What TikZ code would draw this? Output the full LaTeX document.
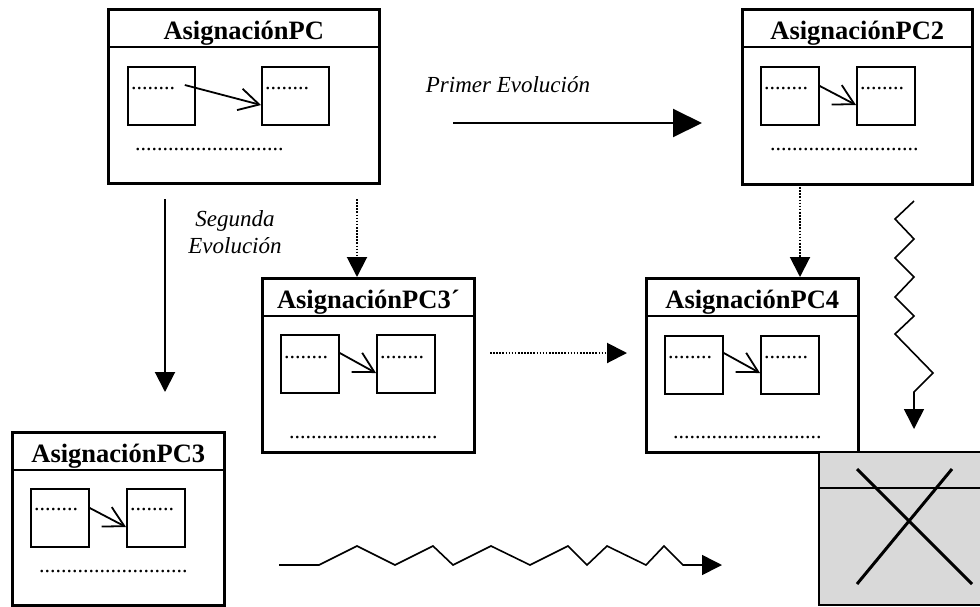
\documentclass[tikz,border=0pt]{standalone}
\usepackage{fontspec}
\setmainfont{Liberation Serif}
\usetikzlibrary{arrows.meta,positioning,calc}
\definecolor{ink}{HTML}{000000}
\definecolor{crossfill}{HTML}{D9D9D9}
\tikzset{
  classbox/.style={draw=ink, line width=2.6pt, anchor=north west, inner sep=0pt},
  titlebar/.style={draw=ink, line width=2pt, anchor=north, inner sep=0pt,
                   minimum height=38pt, text height=26pt, text depth=4pt,
                   font=\fontsize{26.5}{30}\selectfont\bfseries},
  attrbox/.style={draw=ink, line width=1.8pt, anchor=north west, minimum width=58pt,
                  minimum height=58pt, inner sep=0pt},
  dots/.style={anchor=base west, inner sep=0pt, font=\fontsize{22}{24}\selectfont},
  link/.style={-{Straight Barb[length=20pt,width=22pt]}, line width=1.8pt, draw=ink},
  evo/.style={-{Triangle[length=20pt,width=20pt]}, line width=2pt, draw=ink},
  dotevo/.style={evo, dash pattern=on 1.6pt off 1.5pt},
  zigzag/.style={evo, line width=1.6pt},
  evolabel/.style={font=\fontsize{23}{27}\selectfont\itshape, align=center, inner sep=0pt}
}

\begin{document}
\begin{tikzpicture}[x=1pt,y=-1pt]
  \useasboundingbox (0,0) rectangle (980,606);

  % AsignacionPC
  \node[classbox,minimum width=271pt,minimum height=174pt] (pc) at (107,8) {};
  \node[titlebar,minimum width=271pt] (pct) at (pc.north) {AsignaciónPC};
  \node[attrbox,minimum width=67pt] (pca) at (127,66) {};
  \node[attrbox,minimum width=67pt] (pcb) at (261,66) {};
  \node[dots] at ($(pca.north west)+(4,23)$) {........};
  \node[dots] at ($(pcb.north west)+(4,23)$) {........};
  \node[dots] at (135,150) {...........................};
  \draw[link] ($(pca.north east)+(-11,19)$) -- ($(pcb.north west)+(0,39)$);

  % AsignacionPC2
  \node[classbox,minimum width=230pt,minimum height=175pt] (pc2) at (741,8) {};
  \node[titlebar,minimum width=230pt] (pc2t) at (pc2.north) {AsignaciónPC2};
  \node[attrbox] (pc2a) at (760,66) {};
  \node[attrbox] (pc2b) at (856,66) {};
  \node[dots] at ($(pc2a.north west)+(4,23)$) {........};
  \node[dots] at ($(pc2b.north west)+(4,23)$) {........};
  \node[dots] at (770,150) {...........................};
  \draw[link] ($(pc2a.north east)+(0,20)$) -- ($(pc2b.north west)+(0,39)$);

  % AsignacionPC3'
  \node[classbox,minimum width=212pt,minimum height=174pt] (pc3p) at (261,277) {};
  \node[titlebar,minimum width=212pt] (pc3pt) at (pc3p.north) {AsignaciónPC3´};
  \node[attrbox] (pc3pa) at (280,334) {};
  \node[attrbox] (pc3pb) at (376,334) {};
  \node[dots] at ($(pc3pa.north west)+(4,24)$) {........};
  \node[dots] at ($(pc3pb.north west)+(4,24)$) {........};
  \node[dots] at (289,438) {...........................};
  \draw[link] ($(pc3pa.north east)+(0,19)$) -- ($(pc3pb.north west)+(0,39)$);

  % AsignacionPC4
  \node[classbox,minimum width=212pt,minimum height=174pt] (pc4) at (645,277) {};
  \node[titlebar,minimum width=212pt] (pc4t) at (pc4.north) {AsignaciónPC4};
  \node[attrbox] (pc4a) at (664,335) {};
  \node[attrbox] (pc4b) at (760,335) {};
  \node[dots] at ($(pc4a.north west)+(4,23)$) {........};
  \node[dots] at ($(pc4b.north west)+(4,23)$) {........};
  \node[dots] at (673,438) {...........................};
  \draw[link] ($(pc4a.north east)+(0,18)$) -- ($(pc4b.north west)+(0,38)$);

  % AsignacionPC3
  \node[classbox,minimum width=212pt,minimum height=173pt] (pc3) at (11,431) {};
  \node[titlebar,minimum width=212pt] (pc3t) at (pc3.north) {AsignaciónPC3};
  \node[attrbox] (pc3a) at (30,488) {};
  \node[attrbox] (pc3b) at (126,488) {};
  \node[dots] at ($(pc3a.north west)+(4,22)$) {........};
  \node[dots] at ($(pc3b.north west)+(4,22)$) {........};
  \node[dots] at (39,572) {...........................};
  \draw[link] ($(pc3a.north east)+(0,20)$) -- ($(pc3b.north west)+(0,39)$);

  % deleted class
  \node[classbox,line width=1.6pt,fill=crossfill,minimum width=163pt,minimum height=153pt] (gone) at (818,451) {};
  \draw[draw=ink,line width=1.6pt] ($(gone.north west)+(0,37)$) -- ($(gone.north east)+(0,37)$);
  \draw[draw=ink,line width=3pt] (857,469) -- (972,584);
  \draw[draw=ink,line width=3pt] (952,469) -- (857,584);

  % evolutions
  \coordinate (prim0) at (453,123);
  \coordinate (prim1) at (702,123);
  \draw[evo,-{Triangle[length=29pt,width=28pt]}] (prim0) -- (prim1);
  \node[evolabel,anchor=base] (primlbl) at (508,92) {Primer Evolución};

  \coordinate (seg0) at (165,199);
  \coordinate (seg1) at (165,392);
  \draw[evo] (seg0) -- (seg1);
  \node[evolabel,anchor=base] (seglbl) at (235,253) {Segunda\\[0pt]Evolución};

  \coordinate (d1) at (357,199);
  \draw[dotevo] (d1) -- (d1 |- pc3p.north);
  \coordinate (d2) at (800,184);
  \draw[dotevo] (d2) -- (d2 |- pc4.north);
  \coordinate (d3) at (490,353);
  \coordinate (d4) at (627,353);
  \draw[dotevo] (d3) -- (d4);

  % dead ends
  \coordinate (zv0) at (914,201);
  \coordinate (zv1) at (914,429);
  \draw[zigzag] (zv0) -- (895,219) -- (914,239) -- (895,258) -- (914,277) -- (895,297)
    -- (914,316) -- (895,334) -- (933,373) -- (914,392) -- (zv1);
  \coordinate (zh0) at (279,565);
  \coordinate (zh1) at (722,565);
  \draw[zigzag] (zh0) -- (319,565) -- (357,546) -- (395,565) -- (433,546) -- (453,565)
    -- (491,546) -- (530,565) -- (568,546) -- (587,565) -- (607,546) -- (646,565)
    -- (664,546) -- (683,565) -- (zh1);
\end{tikzpicture}
\end{document}
